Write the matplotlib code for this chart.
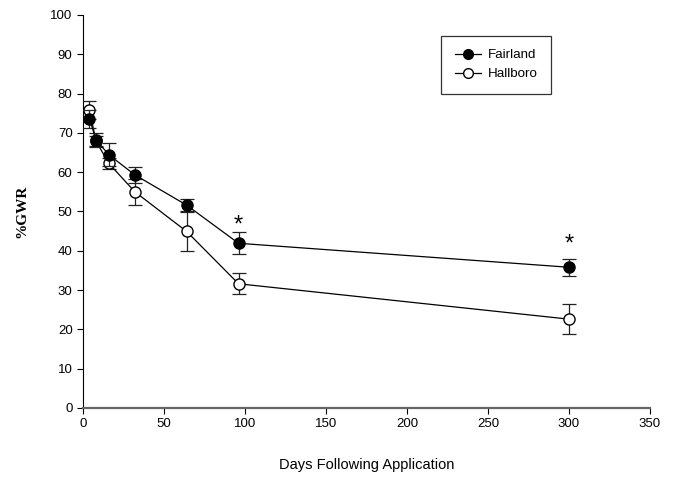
import matplotlib
matplotlib.use("Agg")
import matplotlib.pyplot as plt
from matplotlib.lines import Line2D

days = [4, 8, 16, 32, 64, 96, 300]
fairland = [73.6, 68.2, 64.4, 59.3, 51.6, 41.9, 35.8]
fairland_err = [2.3, 1.8, 2.9, 2.0, 1.6, 2.8, 2.2]
hallboro = [75.8, 67.9, 62.2, 55.0, 44.9, 31.6, 22.6]
hallboro_err = [2.3, 1.3, 1.4, 3.3, 5.0, 2.7, 3.9]
star_x = [96, 300]
star_y = [46.3, 41.6]

plt.rcParams['font.family'] = ['Liberation Sans', 'DejaVu Sans']
fig = plt.figure(figsize=(6.77, 4.8), dpi=100)
ax = fig.add_axes([0.1226, 0.15, 0.8375, 0.819])

ax.errorbar(days, fairland, yerr=fairland_err, color='black', lw=0.9,
            marker='o', ms=8, mfc='black', mec='black', capsize=5,
            elinewidth=0.9, capthick=0.9, ecolor='#222222', zorder=3)
ax.errorbar(days, hallboro, yerr=hallboro_err, color='black', lw=0.9,
            marker='o', ms=8, mfc='white', mec='black', capsize=5,
            elinewidth=0.9, capthick=0.9, ecolor='#222222', zorder=2)
for x, y in zip(star_x, star_y):
    ax.text(x, y, '*', ha='center', va='center', fontsize=17)

ax.set_xlim(0, 350)
ax.set_ylim(0, 100)
ax.set_xticks(range(0, 351, 50))
ax.set_yticks(range(0, 101, 10))
ax.spines['top'].set_visible(False)
ax.spines['right'].set_visible(False)
ax.spines['bottom'].set_color('#666666')
ax.spines['bottom'].set_linewidth(1.6)
ax.tick_params(direction='out', length=4, labelsize=9.5)
ax.set_xlabel('Days Following Application', fontsize=10.5, labelpad=20)
ax.set_ylabel('%GWR', fontsize=11, fontweight='bold', family='Liberation Serif', labelpad=16)

handles = [
    Line2D([], [], color='black', lw=0.9, marker='o', ms=7, mfc='black', mec='black'),
    Line2D([], [], color='black', lw=0.9, marker='o', ms=7, mfc='white', mec='black'),
]
leg = ax.legend(handles, ['Fairland', 'Hallboro'], loc='upper left',
                bbox_to_anchor=(0.632, 0.947), frameon=True,
                fancybox=False, edgecolor='black', fontsize=9.6, handlelength=2.0,
                borderpad=1.0, labelspacing=0.5, handletextpad=0.5, borderaxespad=0)
leg.get_frame().set_linewidth(0.9)

fig.savefig('out.png', dpi=100)
